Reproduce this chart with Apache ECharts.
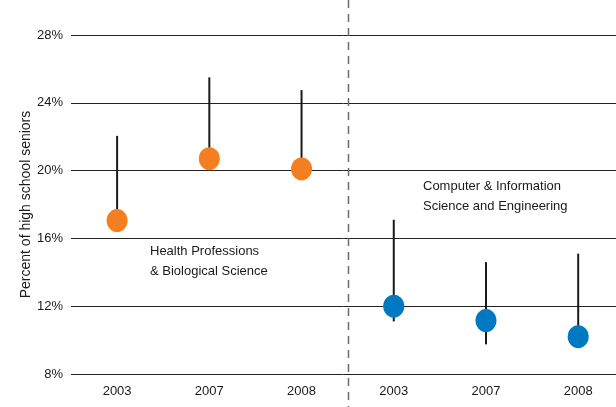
<!DOCTYPE html>
<html>
<head>
<meta charset="utf-8">
<script src="https://cdn.jsdelivr.net/npm/echarts@6/dist/echarts.min.js"></script>
<style>
html,body{margin:0;padding:0;background:#fff;}
#c{width:616px;height:407px;}
</style>
</head>
<body>
<div id="c"></div>
<script>
const categories = ['2003', '2007', '2008', '2003', '2007', '2008'];
const yTicks = [8, 12, 16, 20, 24, 28];
// Health Professions & Biological Science (orange)
const healthIdx = [0, 1, 2];
const healthValue = [17.05, 20.7, 20.1];
const healthHigh = [22.05, 25.5, 24.75];
const healthLow = [17.05, 20.7, 20.1];
// Computer & Information Science and Engineering (blue)
const compIdx = [3, 4, 5];
const compValue = [12.0, 11.15, 10.2];
const compHigh = [17.1, 14.6, 15.1];
const compLow = [11.1, 9.75, 10.2];

const FONT = "'Liberation Sans',sans-serif";
const chart = echarts.init(document.getElementById('c'), null, {renderer: 'canvas'});

const errData = [];
healthIdx.forEach((x, i) => errData.push([x, healthLow[i], healthHigh[i]]));
compIdx.forEach((x, i) => errData.push([x, compLow[i], compHigh[i]]));

const option = {
  animation: false,
  grid: {left: 71, right: 0, top: 35, height: 339, containLabel: false},
  xAxis: {
    type: 'value',
    min: -0.5,
    max: 5.41,
    axisLine: {show: false},
    axisTick: {show: false},
    axisLabel: {
      color: '#1a1a1a', fontSize: 13, fontFamily: FONT, margin: 11,
      customValues: categories.map((c, i) => i),
      formatter: function (v) { return categories[Math.round(v)] || ''; }
    },
    splitLine: {show: false}
  },
  yAxis: {
    type: 'value',
    min: yTicks[0],
    max: yTicks[yTicks.length - 1],
    interval: 4,
    name: 'Percent of high school seniors',
    nameLocation: 'middle',
    nameRotate: 90,
    nameGap: 38,
    nameMoveOverlap: false,
    nameTextStyle: {color: '#1a1a1a', fontSize: 14, fontFamily: FONT},
    axisLine: {show: false},
    axisTick: {show: false},
    axisLabel: {color: '#1a1a1a', fontSize: 13, fontFamily: FONT, margin: 8, formatter: '{value}%'},
    splitLine: {show: true, lineStyle: {color: '#222', width: 1}}
  },
  series: [
    {
      type: 'custom',
      z: 2,
      renderItem: function (params, api) {
        const x = api.value(0);
        const lo = api.coord([x, api.value(1)]);
        const hi = api.coord([x, api.value(2)]);
        return {
          type: 'line',
          shape: {x1: lo[0], y1: lo[1], x2: hi[0], y2: hi[1]},
          style: {stroke: '#1a1a1a', lineWidth: 2}
        };
      },
      data: errData
    },
    {
      type: 'scatter',
      z: 3,
      symbol: 'circle',
      symbolSize: [21, 23],
      itemStyle: {color: '#F47F20', opacity: 1},
      data: healthIdx.map((x, i) => [x, healthValue[i]])
    },
    {
      type: 'scatter',
      z: 3,
      symbol: 'circle',
      symbolSize: [21, 23],
      itemStyle: {color: '#0079C2', opacity: 1},
      data: compIdx.map((x, i) => [x, compValue[i]])
    }
  ]
};
chart.setOption(option);

const p2 = chart.convertToPixel({gridIndex: 0}, [2, 8]);
const p3 = chart.convertToPixel({gridIndex: 0}, [3, 8]);
const divX = Math.round((p2[0] + p3[0]) / 2) + 0.5;
chart.setOption({
  graphic: [
    {type: 'line', z: 1, shape: {x1: divX, y1: 0, x2: divX, y2: 407},
     style: {stroke: '#6b6b6b', lineWidth: 1.5, lineDash: [8, 6]}},
    {type: 'text', left: 150, top: 241,
     style: {text: 'Health Professions\n& Biological Science', fill: '#1a1a1a', font: '13px ' + FONT, lineHeight: 20}},
    {type: 'text', left: 423, top: 176,
     style: {text: 'Computer & Information\nScience and Engineering', fill: '#1a1a1a', font: '13px ' + FONT, lineHeight: 20}}
  ]
});
</script>
</body>
</html>
